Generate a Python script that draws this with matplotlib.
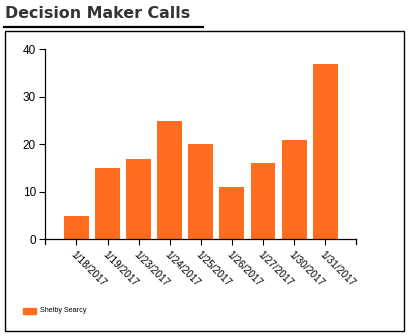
import matplotlib
matplotlib.use("Agg")
import matplotlib.pyplot as plt
from matplotlib.patches import Rectangle
from matplotlib.lines import Line2D

dates = ["1/18/2017", "1/19/2017", "1/23/2017", "1/24/2017", "1/25/2017",
         "1/26/2017", "1/27/2017", "1/30/2017", "1/31/2017"]
calls = [5, 15, 17, 25, 20, 11, 16, 21, 37]
series_name = "Shelby Searcy"
y_ticks = [0, 10, 20, 30, 40]

W, H = 409, 336
ORANGE = "#FF6C1E"
plt.rcParams["font.family"] = ["Liberation Sans", "DejaVu Sans"]

fig = plt.figure(figsize=(W / 100, H / 100), dpi=100)

def fx(px):
    return px / W

def fy(py):
    return 1 - py / H

# title with underline and outer frame
fig.text(fx(5), fy(14), "Decision Maker Calls", fontsize=11.4, fontweight="bold",
         color="#333333", va="center", ha="left", family="DejaVu Sans")
fig.add_artist(Line2D([fx(4), fx(203)], [fy(26.5), fy(26.5)], color="black", lw=1.6))
fig.add_artist(Rectangle((fx(4.5), fy(330.5)), fx(399), 299.5 / H, fill=False,
                         edgecolor="black", lw=1.0))

ax = fig.add_axes([fx(45), fy(239.3), fx(311), (239.3 - 49.3) / H])
x = range(len(dates))
ax.bar(x, calls, width=0.8, color=ORANGE, label=series_name)
ax.set_xlim(-1.01, 8.99)
ax.set_ylim(0, 40)
ax.set_yticks(y_ticks)
ax.set_xticks(list(x))
ax.set_xticklabels(dates, rotation=-45, ha="left", va="top", rotation_mode="anchor",
                   fontsize=7.3)
ax.tick_params(axis="y", labelsize=8.5, length=4.5, width=0.8, pad=2)
ax.tick_params(axis="x", length=4, width=0.8, pad=3)
for s in ("top", "right"):
    ax.spines[s].set_visible(False)
for s in ("left", "bottom"):
    ax.spines[s].set_linewidth(0.9)
# outer ticks at both ends of the x axis
for xa in (0, 1):
    ax.plot([xa, xa], [0, -0.025], transform=ax.transAxes, color="black",
            lw=0.9, clip_on=False)

fig.add_artist(Rectangle((fx(23), fy(314)), fx(13), 6 / H, color=ORANGE))
fig.text(fx(40), fy(311), series_name, fontsize=5.2, va="center", ha="left")

fig.savefig("out.png", dpi=100)
